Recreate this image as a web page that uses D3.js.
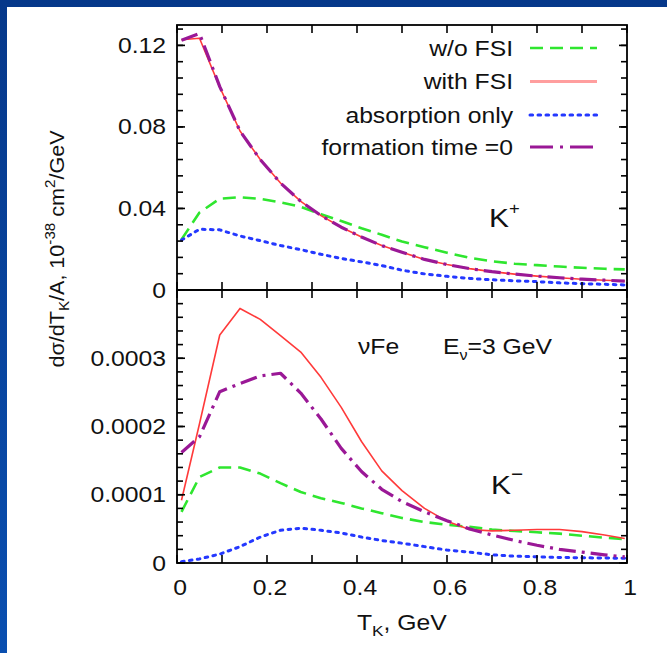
<!DOCTYPE html>
<html><head><meta charset="utf-8">
<script src="https://cdn.jsdelivr.net/npm/d3@7"></script>
<style>html,body{margin:0;padding:0;background:#fff;overflow:hidden;} svg{display:block;}</style>
</head><body><svg id="c" width="667" height="653"></svg>
<script>
// ---------- data ----------
const tK = [0.01,0.05,0.095,0.14,0.185,0.23,0.275,0.32,0.365,0.41,0.455,0.5,0.55,0.6,0.65,0.7,0.75,0.8,0.85,0.9,0.95,0.995];

// K+ panel (units 1e-38 cm^2/GeV)
const kpNoFsi   = [0.0248,0.0380,0.0448,0.0455,0.0447,0.0430,0.0408,0.0372,0.0338,0.0303,0.0271,0.0238,0.0210,0.0183,0.0158,0.0141,0.0129,0.0122,0.0115,0.0109,0.0104,0.0101];
const kpWithFsi = [0.1228,0.1235,0.0995,0.0780,0.0640,0.0525,0.0435,0.0365,0.0308,0.0260,0.0218,0.0185,0.0150,0.0125,0.0105,0.0090,0.0078,0.0068,0.0060,0.0053,0.0048,0.0044];
const kpAbsOnly = [0.0245,0.0298,0.0295,0.0265,0.0242,0.0218,0.0198,0.0175,0.0155,0.0138,0.0120,0.0097,0.0079,0.0067,0.0057,0.0050,0.0045,0.0041,0.0035,0.0031,0.0028,0.0025];
const kpForm0   = [0.1225,0.1258,0.0998,0.0780,0.0640,0.0525,0.0435,0.0365,0.0308,0.0260,0.0218,0.0185,0.0150,0.0125,0.0105,0.0090,0.0078,0.0068,0.0060,0.0053,0.0048,0.0044];

// K- panel
const kmNoFsi   = [0.000075,0.000126,0.000140,0.000140,0.000131,0.000117,0.000104,0.000095,0.000088,0.000080,0.000073,0.000066,0.000060,0.000056,0.000053,0.000049,0.000047,0.000045,0.000043,0.000040,0.000037,0.000035];
const kmWithFsi = [0.000092,0.000204,0.000334,0.000373,0.000357,0.000333,0.000309,0.000272,0.000228,0.000178,0.000135,0.000106,0.000080,0.000061,0.000049,0.000047,0.000048,0.000049,0.000049,0.000046,0.000041,0.000036];
const kmAbsOnly = [0.000002,0.000006,0.000013,0.000024,0.000038,0.000048,0.000051,0.000048,0.000044,0.000038,0.000033,0.000029,0.000024,0.000019,0.000016,0.000012,0.000010,0.000009,0.000008,0.0000077,0.0000072,0.000007];
const kmForm0   = [0.000162,0.000185,0.000251,0.000263,0.000274,0.000278,0.000249,0.000211,0.000168,0.000134,0.000108,0.000090,0.000075,0.000062,0.000050,0.000041,0.000033,0.000026,0.000020,0.000016,0.000012,0.000009];

const xTicks = [0,0.1,0.2,0.3,0.4,0.5,0.6,0.7,0.8,0.9,1];
const xTickLabels = ["0","0.2","0.4","0.6","0.8","1"];
const kpYTicks = [0,0.04,0.08,0.12];
const kpYTickLabels = ["0","0.04","0.08","0.12"];
const kmYTicks = [0,0.0001,0.0002,0.0003];
const kmYTickLabels = ["0","0.0001","0.0002","0.0003"];
const legendLabels = ["w/o FSI","with FSI","absorption only","formation time =0"];

// ---------- drawing ----------
const svg = d3.select("#c");
const W = 667, H = 653;
const FONT = "'Liberation Sans', Arial, Helvetica, sans-serif";
const FS = 21.5, SX = 1.15;

const defs = svg.append("defs");
const grad = defs.append("linearGradient").attr("id","bg").attr("x1",0).attr("y1",0).attr("x2",0).attr("y2",1);
grad.append("stop").attr("offset","0").attr("stop-color","#06388a");
grad.append("stop").attr("offset","1").attr("stop-color","#0a4fb0");
svg.append("rect").attr("width",W).attr("height",H).attr("fill","url(#bg)");
svg.append("rect").attr("x",7).attr("y",7).attr("width",W-7).attr("height",H-7).attr("fill","#fff");

const x = d3.scaleLinear().domain([0,1]).range([177,627]);
const yTop = d3.scaleLinear().domain([0,0.13]).range([290,25]);
const yBot = d3.scaleLinear().domain([0,0.0004]).range([563,290]);

const styles = [
  {color:"#2fe62f", width:2.6, dash:"13,7"},
  {color:"#ff3a3a", width:1.6, dash:null},
  {color:"#2438ff", width:3, dash:"2.6,5.4"},
  {color:"#9a1896", width:3.2, dash:"17,6,3,6"}
];

function label(g, px, py, anchor, size){
  return g.append("text")
    .attr("transform",`translate(${px},${py}) scale(${SX},1)`)
    .attr("text-anchor",anchor)
    .attr("font-family",FONT).attr("font-size",size||FS).attr("fill","#111");
}

function panel(y, series, yTicks, yLabels, clipId, showXLabels){
  const g = svg.append("g");
  const [y0,y1] = y.range();
  defs.append("clipPath").attr("id",clipId).append("rect")
    .attr("x",x(0)).attr("y",y1).attr("width",x(1)-x(0)).attr("height",y0-y1);
  const line = d3.line().x((d,i)=>x(tK[i])).y(d=>y(d)).curve(d3.curveLinear);
  const lg = g.append("g").attr("clip-path",`url(#${clipId})`);
  series.forEach((s,i)=>{
    const st = styles[i];
    const p = lg.append("path").datum(s).attr("d",line)
      .attr("fill","none").attr("stroke",st.color).attr("stroke-width",st.width)
      .attr("stroke-linejoin","round");
    if(st.dash) p.attr("stroke-dasharray",st.dash);
    if(i===2) p.attr("stroke-linecap","round");
  });
  // minor y ticks
  const step = yTicks[1]/5;
  const yMinor = d3.range(0, y.domain()[1]+step*0.01, step);
  const tg = g.append("g").attr("stroke","#000").attr("stroke-width",1.6);
  yMinor.forEach(v=>{
    tg.append("line").attr("x1",x(0)).attr("x2",x(0)+6).attr("y1",y(v)).attr("y2",y(v));
    tg.append("line").attr("x1",x(1)).attr("x2",x(1)-6).attr("y1",y(v)).attr("y2",y(v));
  });
  yTicks.forEach(v=>{
    tg.append("line").attr("x1",x(0)).attr("x2",x(0)+8).attr("y1",y(v)).attr("y2",y(v));
    tg.append("line").attr("x1",x(1)).attr("x2",x(1)-8).attr("y1",y(v)).attr("y2",y(v));
  });
  xTicks.forEach(v=>{
    tg.append("line").attr("x1",x(v)).attr("x2",x(v)).attr("y1",y0).attr("y2",y0-8);
    tg.append("line").attr("x1",x(v)).attr("x2",x(v)).attr("y1",y1).attr("y2",y1+8);
  });
  g.append("rect").attr("x",x(0)).attr("y",y1).attr("width",x(1)-x(0)).attr("height",y0-y1)
    .attr("fill","none").attr("stroke","#000").attr("stroke-width",1.8);
  yTicks.forEach((v,i)=>{
    label(g, 166, y(v)+7.5, "end").text(yLabels[i]);
  });
  if(showXLabels){
    xTickLabels.forEach((t,i)=>{
      label(g, x(i*0.2)+3, 595, "middle").text(t);
    });
  }
  return g;
}

const gTop = panel(yTop,[kpNoFsi,kpWithFsi,kpAbsOnly,kpForm0],kpYTicks,kpYTickLabels,"clipTop",false);
const gBot = panel(yBot,[kmNoFsi,kmWithFsi,kmAbsOnly,kmForm0],kmYTicks,kmYTickLabels,"clipBot",true);

// legend
const legY = [48,81.5,115,147];
legendLabels.forEach((t,i)=>{
  label(svg, 513, legY[i]+7.5, "end").text(t);
  const st = styles[i];
  const l = svg.append("line").attr("x1",530).attr("x2",597).attr("y1",legY[i]).attr("y2",legY[i])
    .attr("stroke", i===1 ? "#ff9e9e" : st.color)
    .attr("stroke-width", i===1 ? 3.2 : st.width);
  if(st.dash) l.attr("stroke-dasharray", i===3 ? "23,7,3,7" : st.dash);
  if(i===2) l.attr("stroke-linecap","round");
});

// annotations
const kp = label(svg, 489, 227, "start", 26);
kp.append("tspan").text("K");
kp.append("tspan").attr("dy",-13).attr("font-size",16).text("+");
const km = label(svg, 491, 494, "start", 26);
km.append("tspan").text("K");
km.append("tspan").attr("dy",-14).attr("font-size",18).text("\u2212");
label(svg, 358, 354, "start").text("\u03bdFe");
const ev = label(svg, 443, 354, "start");
ev.append("tspan").text("E");
ev.append("tspan").attr("dy",6).attr("font-size",14).text("\u03bd");
ev.append("tspan").attr("dy",-6).text("=3 GeV");

// axis titles
const xt = label(svg, 357, 630, "start");
xt.append("tspan").text("T");
xt.append("tspan").attr("dy",6).attr("font-size",15).text("K");
xt.append("tspan").attr("dy",-6).text(", GeV");

const yt = svg.append("text")
  .attr("transform","translate(64,249) rotate(-90) scale(1.08,1)")
  .attr("text-anchor","middle").attr("font-family",FONT).attr("font-size",20).attr("fill","#111");
yt.append("tspan").text("d\u03c3/dT");
yt.append("tspan").attr("dy",5).attr("font-size",14).text("K");
yt.append("tspan").attr("dy",-5).text("/A, 10");
yt.append("tspan").attr("dy",-9).attr("font-size",14).text("-38");
yt.append("tspan").attr("dy",9).text(" cm");
yt.append("tspan").attr("dy",-9).attr("font-size",14).text("2");
yt.append("tspan").attr("dy",9).text("/GeV");
</script></body></html>
